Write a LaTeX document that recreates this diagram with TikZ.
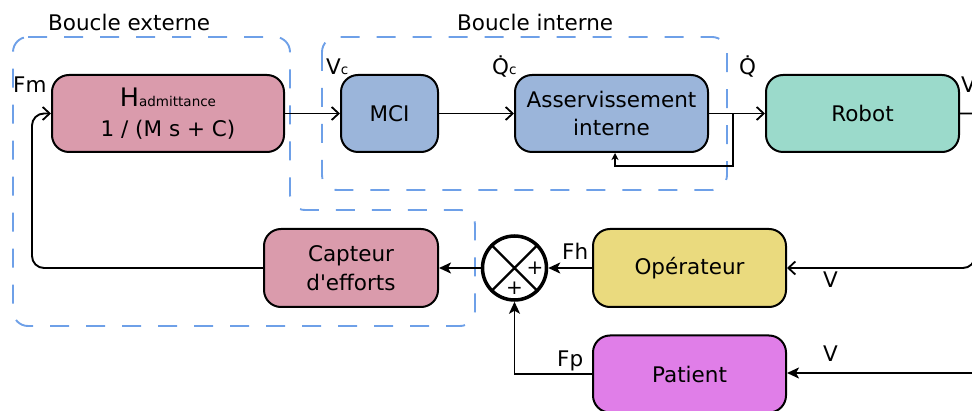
\documentclass[tikz,border=0pt]{standalone}
\usepackage{fontspec}
\setmainfont{DejaVu Sans}[Ligatures=TeXOff]
\usetikzlibrary{arrows.meta}
\definecolor{pinkH}{HTML}{DA9BAC}
\definecolor{blueM}{HTML}{9BB5DA}
\definecolor{tealR}{HTML}{9BDACB}
\definecolor{yellowO}{HTML}{EADA7E}
\definecolor{magP}{HTML}{E07EE8}
\definecolor{dashB}{HTML}{6EA0E8}
\newcommand{\smtxt}[1]{{\fontsize{13.5}{14}\selectfont #1}}
\begin{document}
\begin{tikzpicture}[x=1pt,y=-1pt,
  font=\fontsize{21.5}{28.5}\selectfont,
  blk/.style={draw, line width=2pt, rounded corners=17pt, minimum height=77pt, align=center, inner sep=0pt},
  wire/.style={line width=1.9pt},
  oarr/.style={wire, -{Straight Barb[length=7pt,width=13pt,line width=1.8pt]}},
  farr/.style={wire, -{Stealth[length=12pt,width=11pt,inset=3pt]}},
  sfarr/.style={wire, -{Stealth[length=7pt,width=7pt,inset=2pt]}},
  dbox/.style={draw=dashB, line width=1.9pt, dash pattern=on 19pt off 17pt, rounded corners=15pt},
  lbl/.style={anchor=base west, inner sep=0pt}]
\useasboundingbox (0,0) rectangle (972,411);

% dashed loops
\draw[dbox] (13,37) -- (290,37) -- (290,210) -- (475,210) -- (475,326) -- (13,326) -- cycle;
\draw[dbox] (322,37) rectangle (727,190);

% blocks
\node[blk, fill=pinkH, minimum width=232pt] (H) at (168,113.5) {{\fontsize{25.5}{25}\selectfont H}\smtxt{admittance}\\[1pt]1 / (M s + C)};
\node[blk, fill=blueM, minimum width=97pt] (MCI) at (389.5,113.5) {MCI};
\node[blk, fill=blueM, minimum width=193pt] (AI) at (611.5,113.5) {Asservissement\\interne};
\node[blk, fill=tealR, minimum width=193pt] (R) at (862.5,113.5) {Robot};
\node[blk, fill=pinkH, minimum width=174pt, minimum height=78pt] (C) at (351,268) {Capteur\\d'efforts};
\node[draw, circle, line width=3.5pt, minimum size=64pt, inner sep=0pt] (S) at (514.5,268) {};
\node[blk, fill=yellowO, minimum width=193pt, minimum height=78pt] (O) at (689.5,268) {Opérateur};
\node[blk, fill=magP, minimum width=193pt] (P) at (689.5,374) {Patient};

% summing junction
\draw[line width=2.3pt] (S.north west) -- (S.south east) (S.north east) -- (S.south west);
\node[font=\fontsize{20}{20}\selectfont, inner sep=0pt] (p1) at (535,268) {+};
\node[font=\fontsize{20}{20}\selectfont, inner sep=0pt] (p2) at (514.5,288.5) {+};

% connectors
\draw[oarr] (H) -- (MCI);
\draw[oarr] (MCI) -- (AI);
\draw[oarr] (AI) -- (R);
\coordinate (br) at (733,113.5);
\coordinate (fb) at (615,166);
\draw[sfarr] (br) |- (fb) -- (fb |- AI.south);
\draw[oarr, rounded corners=12pt] (R.east) -- (995,113.5) -- (995,230) -- (975,240) -- (975,268) -- (O.east);
\coordinate (pin) at (985,373);
\draw[farr] (pin) -- (P.east |- pin);
\draw[farr] (O.west) -- (S.east);
\draw[farr] (P.west) -| (S.south);
\draw[farr] (S.west) -- (C.east);
\draw[oarr, rounded corners=12pt] (C.west) -- (32,268) -- (32,113.5) -- (H.west);

% labels
\node[lbl] (fm) at (13,93) {Fm};
\node[lbl] (vc) at (326,75) {V\smtxt{c}};
\node[lbl] (qc) at (492,75) {Q̇\smtxt{c}};
\node[lbl] (q) at (739,75) {Q̇};
\node[lbl] (vr) at (961,93) {V};
\node[lbl] (fh) at (562,260) {Fh};
\node[lbl] (vo) at (823,288) {V};
\node[lbl] (fp) at (557,367) {Fp};
\node[lbl] (vp) at (823,362) {V};
\node[lbl] (be) at (48,31) {Boucle externe};
\node[lbl] (bi) at (457,31) {Boucle interne};
\end{tikzpicture}
\end{document}
